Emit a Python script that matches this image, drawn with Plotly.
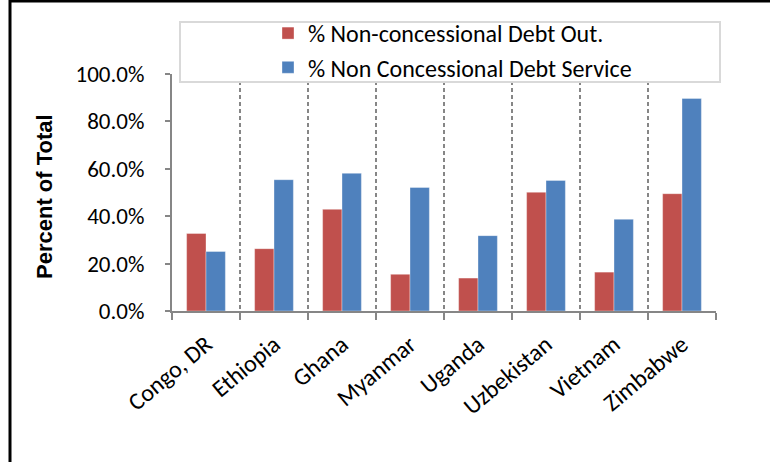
import plotly.graph_objects as go

countries = ["Congo, DR", "Ethiopia", "Ghana", "Myanmar", "Uganda",
             "Uzbekistan", "Vietnam", "Zimbabwe"]
debt_out = [0.327, 0.263, 0.429, 0.155, 0.139, 0.501, 0.164, 0.495]
debt_service = [0.251, 0.554, 0.581, 0.521, 0.318, 0.551, 0.387, 0.897]
y_ticks = [0, 0.2, 0.4, 0.6, 0.8, 1.0]

RED = "#C0504D"
BLUE = "#4F81BD"
GRAY = "#868686"
FONT = "Carlito, Lato, Calibri, sans-serif"

W, H = 770, 462
L, R, T, B = 172, 54, 74, 151
pw, ph = W - L - R, H - T - B


def px_x(x):
    return (x - L) / pw


def px_y(y):
    return (H - B - y) / ph


fig = go.Figure()
fig.add_trace(go.Bar(name="% Non-concessional Debt Out.", x=countries, y=debt_out,
                     marker=dict(color=RED, line=dict(color="rgba(255,255,255,0.35)", width=1))))
fig.add_trace(go.Bar(name="% Non Concessional Debt Service", x=countries, y=debt_service,
                     marker=dict(color=BLUE, line=dict(color="rgba(255,255,255,0.35)", width=1))))

shapes = [
    # legend box
    dict(type="rect", xref="paper", yref="paper", layer="above",
         x0=px_x(180), x1=px_x(720), y0=px_y(82), y1=px_y(22),
         fillcolor="white", line=dict(color="#D9D9D9", width=2)),
    # outer frame (left and top edges)
    dict(type="line", xref="paper", yref="paper", layer="above",
         x0=px_x(10), x1=px_x(10), y0=px_y(H + 5), y1=px_y(0),
         line=dict(color="black", width=3)),
    dict(type="line", xref="paper", yref="paper", layer="above",
         x0=px_x(10), x1=px_x(W + 5), y0=px_y(1), y1=px_y(1),
         line=dict(color="black", width=3)),
]

fig.update_layout(
    width=W, height=H,
    margin=dict(l=L, r=R, t=T, b=B, autoexpand=False),
    paper_bgcolor="white", plot_bgcolor="white",
    barmode="group", bargap=0.43, bargroupgap=0,
    font=dict(family=FONT, size=24, color="black"),
    showlegend=True,
    legend=dict(x=px_x(268), y=px_y(11), xanchor="left", yanchor="top",
                bgcolor="rgba(0,0,0,0)", borderwidth=0,
                font=dict(family=FONT, size=24), tracegroupgap=0),
    shapes=shapes,
    annotations=[dict(text="<b>Percent of Total</b>", textangle=-90,
                      xref="paper", yref="paper", x=px_x(44), y=px_y(197),
                      xanchor="center", yanchor="middle", showarrow=False,
                      font=dict(family="Liberation Sans, Arial, sans-serif", size=22))],
    xaxis=dict(type="category", tickson="boundaries", ticks="outside", ticklen=7,
               tickwidth=2, tickcolor=GRAY, showline=True, linecolor=GRAY, linewidth=2,
               showgrid=True, gridcolor=GRAY, gridwidth=2, griddash="4px,3px",
               tickangle=-40, ticklabelstandoff=8, range=[-0.5, 7.5]),
    yaxis=dict(range=[0, 1.0], tickvals=y_ticks, tickformat=".1%", ticks="outside",
               ticklen=5, tickwidth=2, tickcolor=GRAY, showline=True, linecolor=GRAY,
               linewidth=2, showgrid=False, zeroline=False, ticklabelstandoff=16,
               tickfont=dict(size=23)),
)

fig.write_html("out.html")
